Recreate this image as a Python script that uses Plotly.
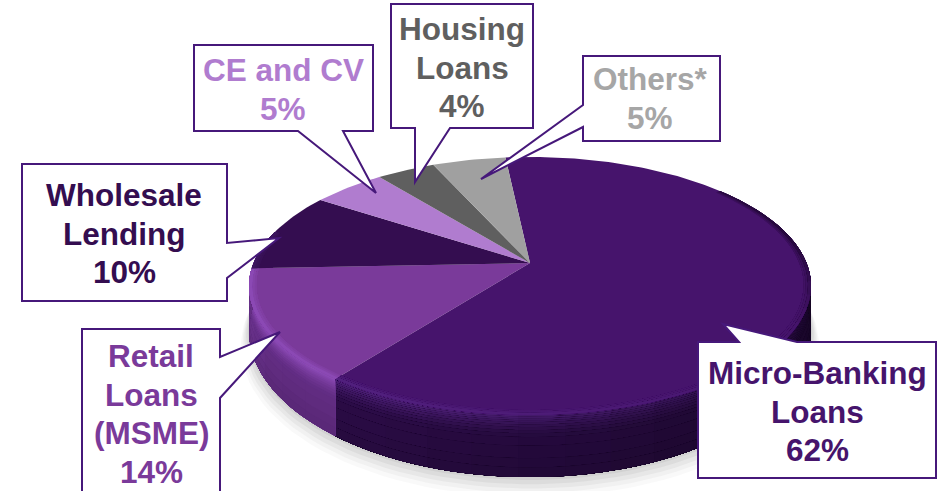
import numpy as np
import plotly.graph_objects as go

# ---- data ----
categories = ["Micro-Banking Loans", "Retail Loans (MSME)", "Wholesale Lending",
              "CE and CV", "Housing Loans", "Others*"]
shares = [62, 14, 10, 5, 4, 5]
slice_colors = ["#46146C", "#7A3A9A", "#340D50", "#B07CCF", "#5F5F5F", "#A0A0A0"]
wall_colors = ["#2C0C48", "#662E88", "#2A0A40", "#8C5CA8", "#444444", "#777777"]
glow_colors = ["#532280", "#8E4CB8", "#3E1660", "#C090DC", "#707070", "#B0B0B0"]

label_lines = [["Micro-Banking", "Loans"], ["Retail", "Loans", "(MSME)"], ["Wholesale", "Lending"],
               ["CE and CV"], ["Housing", "Loans"], ["Others*"]]
label_colors = ["#46146C", "#7A3A9A", "#340D50", "#B07CCF", "#5F5F5F", "#A6A6A6"]
label_centers = [(817, 373), (151, 356), (124, 195), (283, 70), (462, 29), (650, 79)]

boxes = [
    [(698, 342), (739, 342), (723, 324), (797, 342), (936, 342), (936, 478), (698, 478)],
    [(82, 329), (220, 329), (220, 357), (280, 332), (220, 398), (220, 500), (82, 500)],
    [(22, 164), (227, 164), (227, 243), (279, 238), (227, 278), (227, 301), (22, 301)],
    [(194, 45), (373, 45), (373, 131), (343, 131), (376, 193), (298, 131), (194, 131)],
    [(391, 4), (533, 4), (533, 128), (450, 128), (415, 182), (415, 128), (391, 128)],
    [(583, 56), (720, 56), (720, 141), (583, 141), (583, 127), (481, 179), (583, 105)],
]

# ---- projection of the tilted disc ----
CX, CY, A, B, K = 530, 263, 276.5, 124.9, 0.178
DEPTH = 42
START = -6.0
LINE = "#46187A"


def project(theta, r=1.0, f=0.0):
    t = np.radians(theta)
    X, Y = r * np.sin(t), r * np.cos(t)
    w = 1 + K * Y
    return CX + A * X / w, CY - B * Y / w + f * DEPTH / w ** 2


def rgb(c):
    return np.array([int(c[i:i + 2], 16) for i in (1, 3, 5)], float)


def mix(a, b, u):
    v = np.clip(rgb(a) * (1 - u) + rgb(b) * u, 0, 255)
    return "#%02X%02X%02X" % tuple(int(round(q)) for q in v)


def clamp(v):
    return max(0.0, min(1.0, v))


edges = START + np.cumsum([0] + shares) * 3.6
fig = go.Figure()


def poly(xs, ys, color):
    fig.add_trace(go.Scatter(
        x=np.asarray(xs), y=np.asarray(ys), mode="lines", fill="toself", fillcolor=color,
        line=dict(color="rgba(0,0,0,0)", width=0),
        hoverinfo="skip", showlegend=False))


# soft ground shadow
ring = np.linspace(60, 300, 90)
for grow, drop, alpha in [(1.028, 14, 0.035), (1.022, 11, 0.05), (1.016, 8, 0.06),
                          (1.010, 5, 0.07), (1.004, 2, 0.08)]:
    sx, sy = project(ring, grow, 1.0)
    poly(sx, sy + drop, "rgba(90,90,90,%.3f)" % alpha)

# side wall: painted strip over strip so neighbouring pieces leave no seams
strips = [0, 0.03, 0.06, 0.09, 0.12, 0.16, 0.2, 0.25, 0.3, 0.36, 0.5, 0.7, 0.85]
wall_spans = [(78, edges[1], 0), (edges[1], 284, 1)]
for lo, hi, i in wall_spans:
    marks = np.arange(lo, hi, 8.0)
    for f0 in strips:
        fm = f0 + 0.015
        for a0 in marks:
            mid = a0 + 4
            light = clamp((mid - 95) / 115)
            side = clamp((mid - 235) / 30) if i == 1 else 0.0
            base = mix("#000000", wall_colors[i], 0.55 + 0.45 * light)
            base = mix(base, glow_colors[i], 0.35 * side)
            glow = clamp(1 - fm / 0.36) ** 1.6 * light
            col = mix(mix(base, glow_colors[i], glow), "#000000", 0.14 * fm)
            arc = np.linspace(a0, hi, max(3, int((hi - a0) / 3)))
            x0, y0 = project(arc, 1, f0)
            x1, y1 = project(arc[::-1], 1, 1.0)
            poly(np.r_[x0, x1], np.r_[y0, y1], col)

# top face
for i in range(len(shares)):
    arc = np.linspace(edges[i], edges[i + 1], max(6, int(shares[i] * 3)))
    x, y = project(arc)
    poly(np.r_[CX, x, CX], np.r_[CY, y, CY], slice_colors[i])

# bevel around the visible rim
for i in range(len(shares)):
    lo, hi = max(edges[i], 50), min(edges[i + 1], 285)
    if hi <= lo:
        continue
    for r0, u in [(0.975, 0.3), (0.982, 0.5), (0.99, 0.85)]:
        for a0 in np.arange(lo, hi, 6.0):
            mid = a0 + 3
            light = clamp((mid - 120) / 90)
            if light > 0:
                col = mix(slice_colors[i], glow_colors[i], u * light)
            else:
                col = mix(slice_colors[i], "#180428", u * clamp((120 - mid) / 40) * 0.8)
            arc = np.linspace(a0, hi, max(3, int((hi - a0) / 3)))
            x0, y0 = project(arc, r0)
            x1, y1 = project(arc[::-1], 1.0)
            poly(np.r_[x0, x1], np.r_[y0, y1], col)

# callout boxes
shapes = []
for pts in boxes:
    path = "M " + " L ".join("%g,%g" % p for p in pts) + " Z"
    shapes.append(dict(type="path", path=path, xref="x", yref="y", fillcolor="white",
                       line=dict(color=LINE, width=2), layer="above"))

# callout text
annotations = []
STEP = 38.5
for lines, share, color, (cx, top) in zip(label_lines, shares, label_colors, label_centers):
    for n, txt in enumerate(lines + ["%d%%" % share]):
        annotations.append(dict(x=cx, y=top + n * STEP, xref="x", yref="y", text=txt,
                                showarrow=False, xanchor="center", yanchor="middle",
                                font=dict(family="Liberation Sans", size=31.5, color=color,
                                          weight="bold")))

fig.update_layout(
    width=948, height=491, margin=dict(l=0, r=0, t=0, b=0),
    paper_bgcolor="white", plot_bgcolor="white", showlegend=False,
    xaxis=dict(range=[0, 948], visible=False, fixedrange=True),
    yaxis=dict(range=[491, 0], visible=False, fixedrange=True),
    shapes=shapes, annotations=annotations,
)
fig.write_html("out.html", config=dict(displayModeBar=False),
               post_script="document.body.style.margin='0';document.documentElement.style.overflow='hidden';")
